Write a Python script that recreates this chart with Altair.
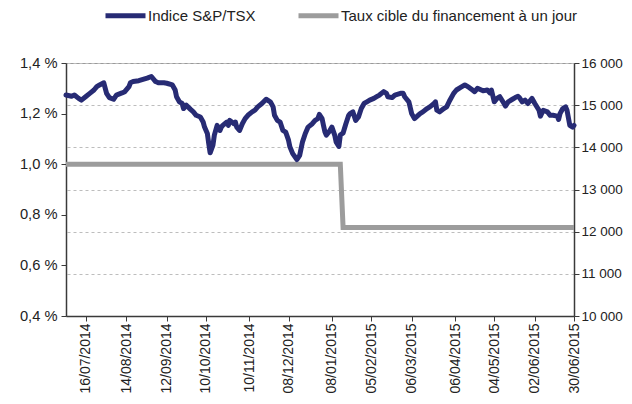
import altair as alt
import pandas as pd

# S&P/TSX index (right axis)
tsx_dates = [
    "2014-07-02", "2014-07-06", "2014-07-08", "2014-07-11", "2014-07-13", "2014-07-16",
    "2014-07-19", "2014-07-22", "2014-07-24", "2014-07-26", "2014-07-29", "2014-07-31",
    "2014-08-02", "2014-08-05", "2014-08-07", "2014-08-11", "2014-08-13", "2014-08-16",
    "2014-08-17", "2014-08-19", "2014-08-23", "2014-08-26", "2014-08-29", "2014-09-01",
    "2014-09-04", "2014-09-06", "2014-09-10", "2014-09-12", "2014-09-16", "2014-09-18",
    "2014-09-19", "2014-09-21", "2014-09-23", "2014-09-24", "2014-09-26", "2014-09-29",
    "2014-10-01", "2014-10-03", "2014-10-06", "2014-10-08", "2014-10-09", "2014-10-11",
    "2014-10-12", "2014-10-13", "2014-10-15", "2014-10-16", "2014-10-18", "2014-10-20",
    "2014-10-21", "2014-10-22", "2014-10-25", "2014-10-26", "2014-10-27", "2014-10-30",
    "2014-10-31", "2014-11-01", "2014-11-03", "2014-11-05", "2014-11-07", "2014-11-09",
    "2014-11-12", "2014-11-14", "2014-11-16", "2014-11-19", "2014-11-22", "2014-11-25",
    "2014-11-27", "2014-11-28", "2014-11-30", "2014-12-02", "2014-12-04", "2014-12-06",
    "2014-12-08", "2014-12-09", "2014-12-11", "2014-12-14", "2014-12-16", "2014-12-18",
    "2014-12-20", "2014-12-22", "2014-12-25", "2014-12-27", "2014-12-29", "2014-12-30",
    "2015-01-01", "2015-01-02", "2015-01-03", "2015-01-04", "2015-01-06", "2015-01-08",
    "2015-01-10", "2015-01-11", "2015-01-13", "2015-01-14", "2015-01-16", "2015-01-18",
    "2015-01-20", "2015-01-21", "2015-01-23", "2015-01-25", "2015-01-27", "2015-01-29",
    "2015-01-31", "2015-02-02", "2015-02-04", "2015-02-07", "2015-02-09", "2015-02-11",
    "2015-02-14", "2015-02-16", "2015-02-17", "2015-02-20", "2015-02-22", "2015-02-26",
    "2015-02-28", "2015-03-01", "2015-03-04", "2015-03-06", "2015-03-08", "2015-03-10",
    "2015-03-12", "2015-03-14", "2015-03-17", "2015-03-19", "2015-03-22", "2015-03-23",
    "2015-03-24", "2015-03-26", "2015-03-29", "2015-03-31", "2015-04-02", "2015-04-05",
    "2015-04-07", "2015-04-10", "2015-04-13", "2015-04-16", "2015-04-18", "2015-04-20",
    "2015-04-22", "2015-04-24", "2015-04-26", "2015-04-29", "2015-05-01", "2015-05-02",
    "2015-05-04", "2015-05-06", "2015-05-08", "2015-05-11", "2015-05-12", "2015-05-14",
    "2015-05-17", "2015-05-19", "2015-05-21", "2015-05-22", "2015-05-24", "2015-05-26",
    "2015-05-28", "2015-05-31", "2015-06-02", "2015-06-05", "2015-06-06", "2015-06-08",
    "2015-06-11", "2015-06-13", "2015-06-15", "2015-06-18", "2015-06-19", "2015-06-20",
    "2015-06-22", "2015-06-24", "2015-06-25", "2015-06-27", "2015-06-29", "2015-06-30",
]
tsx_values = [
    15240, 15210, 15240, 15160, 15120, 15200,
    15280, 15360, 15440, 15480, 15530, 15280,
    15180, 15140, 15240, 15290, 15320, 15440,
    15530, 15560, 15580, 15610, 15640, 15680,
    15560, 15530, 15530, 15520, 15480, 15360,
    15200, 15080, 15040, 14920, 15000, 14900,
    14840, 14760, 14720, 14600, 14480, 14330,
    14090, 13870, 14050, 14290, 14520, 14400,
    14480, 14520, 14600, 14520, 14640, 14560,
    14600, 14480, 14400, 14560, 14680, 14760,
    14840, 14880, 14960, 15040, 15140, 15080,
    14960, 14760, 14640, 14600, 14400, 14360,
    14170, 14010, 13850, 13710, 13810, 14130,
    14330, 14480, 14560, 14640, 14680, 14780,
    14680, 14520, 14370, 14290, 14370, 14480,
    14290, 14130, 14020, 14290, 14340, 14560,
    14760, 14800, 14840, 14640, 14720, 14920,
    15040, 15080, 15120, 15160, 15200, 15240,
    15320, 15280, 15200, 15180, 15240, 15280,
    15280, 15200, 15080, 14800, 14680, 14740,
    14800, 14840, 14920, 14960, 15040, 15080,
    14880, 14840, 14920, 14960, 15100, 15280,
    15360, 15420, 15480, 15420, 15370, 15320,
    15400, 15370, 15340, 15360, 15290, 15360,
    15080, 15160, 15200, 15040, 14980, 15080,
    15140, 15180, 15210, 15180, 15080, 15120,
    15040, 15160, 15040, 14880, 14740, 14880,
    14840, 14760, 14760, 14740, 14660, 14800,
    14920, 14960, 14880, 14520, 14480, 14520,
]

# Overnight target rate (left axis, %)
rate_dates = ["2014-07-02", "2015-01-14", "2015-01-16", "2015-06-30"]
rate_values = [1.0, 1.0, 0.75, 0.75]

series_names = ["Indice S&P/TSX", "Taux cible du financement à un jour"]
series_colors = ["#272B74", "#9C9C9C"]

x_tick_dates = [
    (2014, 7, 16), (2014, 8, 14), (2014, 9, 12), (2014, 10, 10), (2014, 11, 10),
    (2014, 12, 8), (2015, 1, 8), (2015, 2, 5), (2015, 3, 6), (2015, 4, 6),
    (2015, 5, 4), (2015, 6, 2), (2015, 6, 30),
]
left_ticks = [0.4, 0.6, 0.8, 1.0, 1.2, 1.4]
right_ticks = [10000, 11000, 12000, 13000, 14000, 15000, 16000]

tsx_df = pd.DataFrame({"date": tsx_dates, "value": tsx_values, "serie": series_names[0]})
rate_df = pd.DataFrame({"date": rate_dates, "value": rate_values, "serie": series_names[1]})

FONT_SIZE = 14.7
AX_COLOR = "#3a3a3a"

x_enc = alt.X(
    "date:T",
    scale=alt.Scale(
        type="utc",
        domain=[alt.DateTime(year=2014, month=7, date=2, utc=True),
                alt.DateTime(year=2015, month=6, date=30, utc=True)],
    ),
    axis=alt.Axis(
        values=[alt.DateTime(year=y, month=m, date=d, utc=True) for (y, m, d) in x_tick_dates],
        labelExpr="utcFormat(datum.value, '%d/%m/%Y')",
        labelAngle=270,
        labelPadding=2,
        tickSize=5,
        grid=False,
        title=None,
        domainColor=AX_COLOR,
        tickColor=AX_COLOR,
        domainWidth=1.5,
        labelFontSize=14,
        labelColor="#222222",
    ),
)

color_enc = alt.Color(
    "serie:N",
    scale=alt.Scale(domain=series_names, range=series_colors),
    legend=alt.Legend(
        title=None,
        orient="none",
        legendX=37,
        legendY=-70,
        direction="horizontal",
        symbolType="stroke",
        symbolStrokeWidth=5,
        symbolSize=1600,
        labelOffset=0,
        labelLimit=0,
        columnPadding=32,
        labelFontSize=15,
        labelColor="#222222",
    ),
)

rate_line = alt.Chart(rate_df).mark_line(strokeWidth=5, strokeJoin="miter").encode(
    x=x_enc,
    y=alt.Y(
        "value:Q",
        scale=alt.Scale(domain=[0.4, 1.4], nice=False, zero=False),
        axis=alt.Axis(
            orient="left",
            values=left_ticks,
            labelExpr="replace(format(datum.value, '.1f'), '.', ',') + ' %'",
            grid=False,
            title=None,
            tickSize=5,
            labelPadding=4,
            domainColor=AX_COLOR,
            tickColor=AX_COLOR,
            domainWidth=1.5,
            labelFontSize=FONT_SIZE,
            labelColor="#222222",
        ),
    ),
    color=color_enc,
)

tsx_line = alt.Chart(tsx_df).mark_line(strokeWidth=5, strokeJoin="round", strokeCap="round").encode(
    x=x_enc,
    y=alt.Y(
        "value:Q",
        scale=alt.Scale(domain=[10000, 16000], nice=False, zero=False),
        axis=alt.Axis(
            orient="right",
            values=right_ticks,
            labelExpr="replace(format(datum.value, ','), ',', ' ')",
            grid=True,
            gridDash=[3, 3],
            gridColor="#BDBDBD",
            gridWidth=1,
            title=None,
            tickSize=5,
            labelPadding=2,
            domainColor=AX_COLOR,
            tickColor=AX_COLOR,
            domainWidth=1.5,
            labelFontSize=13.5,
            labelColor="#222222",
        ),
    ),
    color=color_enc,
)

chart = (
    alt.layer(rate_line, tsx_line)
    .resolve_scale(y="independent")
    .properties(
        width=508,
        height=253,
        autosize=alt.AutoSizeParams(type="none"),
        padding={"left": 58, "top": 55, "right": 50, "bottom": 80},
    )
    .configure(font="Liberation Sans")
    .configure_view(stroke="#9A9A9A", strokeWidth=1)
)

chart.save("out.html", embed_options={"renderer": "svg", "actions": False})
